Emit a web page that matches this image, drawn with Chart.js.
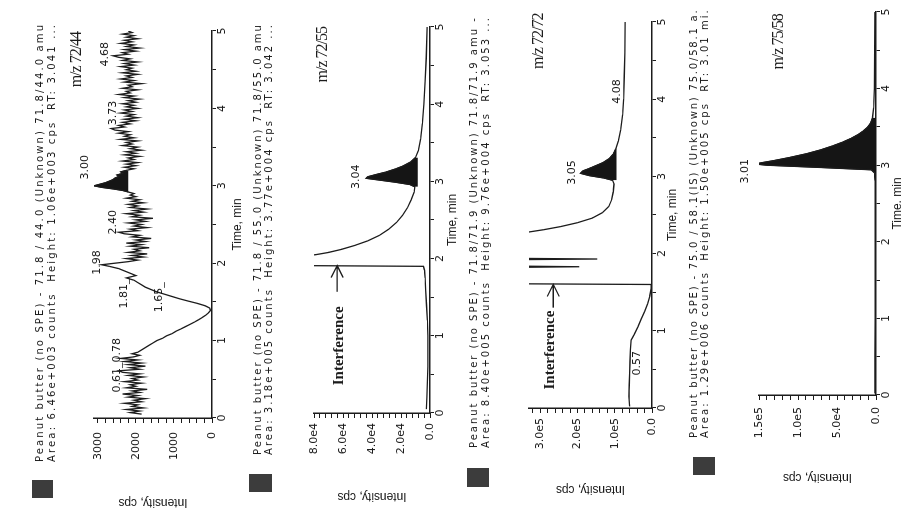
<!DOCTYPE html>
<html>
<head>
<meta charset="utf-8">
<script src="https://cdn.jsdelivr.net/npm/chart.js@4.4.1/dist/chart.umd.min.js"></script>
<style>
html, body { margin: 0; padding: 0; background: #fff; overflow: hidden; }
body { width: 901px; height: 514px; position: relative; }
/* each panel is drawn upright, then turned a quarter turn like the scanned page */
canvas.panel { position: absolute; top: 0; transform-origin: 0 0; transform: translateY(514px) rotate(-90deg); }
</style>
</head>
<body>
<canvas id="c1" class="panel" width="514" height="250" style="left:0px"></canvas>
<canvas id="c2" class="panel" width="514" height="240" style="left:228px"></canvas>
<canvas id="c3" class="panel" width="514" height="235" style="left:452px"></canvas>
<canvas id="c4" class="panel" width="514" height="236" style="left:672px"></canvas>
<script>
// ---- data: [time (min), intensity (cps)] ----
var p1Trace = [
 [0.05,1850],[0.07,2150],[0.09,1900],[0.11,2250],[0.13,1800],[0.15,2100],[0.17,1950],[0.19,2300],[0.21,1850],[0.23,2050],
 [0.25,1750],[0.27,2200],[0.29,1950],[0.31,2350],[0.33,1900],[0.35,2100],[0.37,1700],[0.39,2250],[0.41,2000],[0.43,2150],
 [0.45,1850],[0.47,2300],[0.49,1950],[0.51,2100],[0.53,1800],[0.55,2200],[0.57,1900],[0.59,2350],[0.61,2450],[0.63,1900],
 [0.65,2150],[0.67,1750],[0.69,2200],[0.71,1850],[0.73,2300],[0.75,1950],[0.77,2400],[0.79,2050],[0.81,1900],[0.83,2100],
 [0.85,1950],[0.88,1850],[0.91,1750],[0.94,1650],[0.97,1550],[1.00,1450],[1.03,1300],[1.06,1200],[1.09,1050],[1.12,950],
 [1.15,820],[1.18,700],[1.21,580],[1.24,460],[1.27,350],[1.30,250],[1.33,160],[1.36,90],[1.39,40],[1.42,60],
 [1.45,180],[1.48,380],[1.51,620],[1.54,850],[1.57,1050],[1.60,1250],[1.63,1450],[1.66,1600],[1.69,1750],[1.72,1850],
 [1.75,1950],[1.78,2050],[1.81,2250],[1.84,2000],[1.87,2150],[1.90,2300],[1.93,2450],[1.96,2700],[1.98,2900],[2.00,2550],
 [2.02,2200],[2.04,1950],[2.06,2250],[2.08,1800],[2.10,2100],[2.12,1700],[2.14,2200],[2.16,1900],[2.18,2050],[2.20,1650],
 [2.22,2150],[2.24,1850],[2.26,2250],[2.28,1750],[2.30,2000],[2.32,1600],[2.34,2100],[2.36,1900],[2.38,2300],[2.40,2450],
 [2.42,1950],[2.44,2150],[2.46,1700],[2.48,2050],[2.50,1850],[2.52,2200],[2.54,1750],[2.56,2000],[2.58,1550],[2.60,2100],
 [2.62,1900],[2.64,2250],[2.66,1800],[2.68,2050],[2.70,1700],[2.72,2150],[2.74,1950],[2.76,2200],[2.78,1800],[2.80,2100],
 [2.82,1900],[2.84,2250],[2.86,2000],[2.88,2150],[2.90,2050],[2.92,2200],[2.94,2350],[2.96,2600],[2.98,2900],[3.00,3100],
 [3.02,2950],[3.04,2800],[3.06,2700],[3.08,2600],[3.10,2550],[3.12,2450],[3.14,2500],[3.16,2350],[3.18,2400],[3.20,2250],
 [3.22,2050],[3.24,2300],[3.26,2000],[3.28,2250],[3.30,1950],[3.32,2350],[3.34,2050],[3.36,2200],[3.38,1900],[3.40,2300],
 [3.42,2000],[3.44,2250],[3.46,1850],[3.48,2150],[3.50,1950],[3.52,2350],[3.54,2100],[3.56,2250],[3.58,1950],[3.60,2400],
 [3.62,2050],[3.64,2300],[3.66,2150],[3.68,2450],[3.70,2200],[3.72,2550],[3.74,2650],[3.76,2300],[3.78,2450],[3.80,2150],
 [3.82,2350],[3.84,2000],[3.86,2300],[3.88,1950],[3.90,2250],[3.92,2050],[3.94,2400],[3.96,2100],[3.98,2300],[4.00,1950],
 [4.02,2250],[4.04,2050],[4.06,2350],[4.08,2000],[4.10,2200],[4.12,1900],[4.14,2300],[4.16,2050],[4.18,2450],[4.20,2150],
 [4.22,2250],[4.24,1950],[4.26,2350],[4.28,2100],[4.30,2200],[4.32,1850],[4.34,2300],[4.36,2050],[4.38,2400],[4.40,2100],
 [4.42,2250],[4.44,1950],[4.46,2350],[4.48,2000],[4.50,2250],[4.52,2100],[4.54,2400],[4.56,2050],[4.58,2300],[4.60,1950],
 [4.62,2350],[4.64,2150],[4.66,2450],[4.68,2600],[4.70,2200],[4.72,2350],[4.74,2000],[4.76,2300],[4.78,1900],[4.80,2250],
 [4.82,2050],[4.84,2400],[4.86,2100],[4.88,2300],[4.90,1950],[4.92,2250],[4.94,2050],[4.96,2350],[4.98,2100],[5.00,2200]
];
var p2Trace = [
 [0.05,2500],[0.2,2200],[0.4,1800],[0.6,1500],[0.8,1400],[1.0,1500],[1.2,1800],[1.4,2400],[1.6,3000],[1.75,3400],
 [1.85,3800],[1.90,4500],[1.91,95000],[2.03,95000],[2.05,79000],[2.08,70000],[2.12,61000],[2.17,52000],[2.23,43000],[2.30,35000],
 [2.38,28500],[2.47,23000],[2.56,19000],[2.66,15500],[2.76,13000],[2.86,11000],[2.93,10500],[2.96,14000],[2.99,24000],[3.02,36000],
 [3.04,44000],[3.06,43000],[3.09,37000],[3.12,30500],[3.16,24000],[3.20,18500],[3.25,13500],[3.31,10000],[3.40,8000],[3.55,6500],
 [3.75,5200],[4.0,4200],[4.3,3300],[4.6,2600],[5.0,2000]
];
var p3Trace = [
 [0.02,60000],[0.15,62000],[0.3,61000],[0.45,60000],[0.6,59000],[0.75,58000],[0.88,56000],[0.95,48000],[1.05,38000],[1.15,29000],
 [1.25,20000],[1.35,12000],[1.45,6000],[1.55,2500],[1.60,2000],[1.61,400000],[1.82,400000],[1.83,195000],[1.84,400000],[1.92,400000],
 [1.93,147000],[1.94,400000],[2.26,400000],[2.28,330000],[2.31,290000],[2.35,245000],[2.40,200000],[2.46,160000],[2.53,133000],[2.61,116000],
 [2.70,108000],[2.80,104000],[2.90,102000],[2.95,106000],[2.98,130000],[3.01,168000],[3.04,192000],[3.07,186000],[3.10,170000],[3.14,150000],
 [3.18,131000],[3.23,115000],[3.29,104000],[3.36,97000],[3.46,90000],[3.60,84000],[3.80,79000],[4.00,76000],[4.30,74500],[4.60,73000],
 [5.00,72000]
];
var p4Trace = [
 [0.02,1500],[0.5,1300],[1.0,1200],[1.5,1100],[2.0,1000],[2.5,1200],[2.8,1500],[2.90,2000],[2.94,6000],[2.97,70000],
 [3.00,140000],[3.015,154000],[3.03,148000],[3.06,131000],[3.10,111000],[3.15,89000],[3.20,71000],[3.25,56000],[3.30,43000],[3.35,32000],
 [3.40,23000],[3.45,16000],[3.50,10500],[3.55,7000],[3.62,4500],[3.75,3000],[4.0,2200],[4.5,1600],[5.0,1300]
];

// integrated peak windows [start, end] and the baseline the black fill sits on
var p1Peak = [2.92, 3.20], p1Base = 2200;
var p2Peak = [2.93, 3.31], p2Base = 8500;
var p3Peak = [2.95, 3.36], p3Base = 95000;
var p4Peak = [2.90, 3.62], p4Base = 0;

var p1Header = ['Peanut butter (no SPE) - 71.8 / 44.0 (Unknown) 71.8/44.0 amu',
                'Area: 6.46e+003 counts  Height: 1.06e+003 cps  RT: 3.041 ...'];
var p2Header = ['Peanut butter (no SPE) - 71.8 / 55.0 (Unknown) 71.8/55.0 amu',
                'Area: 3.18e+005 counts  Height: 3.77e+004 cps  RT: 3.042 ...'];
var p3Header = ['Peanut butter (no SPE) - 71.8/71.9 (Unknown) 71.8/71.9 amu -',
                'Area: 8.40e+005 counts  Height: 9.76e+004 cps  RT: 3.053 ...'];
var p4Header = ['Peanut butter (no SPE) - 75.0 / 58.1(IS) (Unknown) 75.0/58.1 a.',
                'Area: 1.29e+006 counts  Height: 1.50e+005 cps  RT: 3.01 mi.'];

var p1Title = 'm/z 72/44', p2Title = 'm/z 72/55', p3Title = 'm/z 72/72', p4Title = 'm/z 75/58';

// peak labels: [text, time, intensity where it sits]
var p1Labels = [['0.61_0.78',0.68,2500],['1.81_',1.61,2320],['1.65_',1.56,1400],['1.98',2.01,3030],
                ['2.40',2.53,2600],['3.00',3.24,3340],['3.73',3.94,2600],['4.68',4.70,2820]];
var p2Labels = [['3.04',3.06,51000]];
var p3Labels = [['3.05',3.05,215000],['4.08',4.10,94000],['0.57',0.58,40000]];
var p4Labels = [['3.01',2.92,168000]];

// axis ticks: [labelled step, minor step, axis top]
var timeTicks = [1, 0.5, 5];
var p1Ticks = [1000, 200, 3100];
var p2Ticks = [20000, 4000, 80000];
var p3Ticks = [100000, 20000, 330000];
var p4Ticks = [50000, 10000, 150000];

var INK = '#1c1c1c';
var TICK_FONT = { family: 'DejaVu Sans', size: 11 };

function sciLabel(v) {
  if (v === 0) return '0.0';
  return v.toExponential(1).replace('+', '');
}

function tickList(step, top) {
  var out = [];
  for (var i = 0; i * step <= top + 1e-9; i++) out.push({ value: Math.round(i * step * 1000) / 1000 });
  return out;
}

function drawDeco(chart, p) {
  var ctx = chart.ctx, xs = chart.scales.x, ys = chart.scales.y;
  ctx.save();
  // legend swatch
  ctx.fillStyle = '#3c3c3c';
  ctx.fillRect(p.box[0], p.box[1], p.box[2], p.box[3]);
  // two header lines, spread to the printed width
  ctx.fillStyle = INK;
  ctx.font = '10px "DejaVu Sans"';
  ctx.textBaseline = 'middle';
  ctx.textAlign = 'left';
  p.header.forEach(function (line, i) {
    ctx.letterSpacing = '0px';
    var w = ctx.measureText(line).width;
    ctx.letterSpacing = ((p.headW - w) / (line.length - 1)).toFixed(2) + 'px';
    ctx.fillText(line, p.headX, p.headY[i]);
  });
  // m/z caption
  ctx.textAlign = 'center';
  ctx.letterSpacing = '-1px';
  ctx.font = '16px "Liberation Serif"';
  ctx.fillText(p.title, xs.getPixelForValue(p.titleAt[0]), ys.getPixelForValue(p.titleAt[1]));
  ctx.letterSpacing = '0px';
  // retention time labels
  ctx.font = '11px "DejaVu Sans"';
  p.labels.forEach(function (l) {
    ctx.fillText(l[0], xs.getPixelForValue(l[1]), ys.getPixelForValue(l[2]));
  });
  // interference note with open arrow
  if (p.interf) {
    var f = p.interf;
    ctx.font = 'bold 15px "Liberation Serif"';
    ctx.fillText('Interference', xs.getPixelForValue(f.text[0]), ys.getPixelForValue(f.text[1]));
    var ay = ys.getPixelForValue(f.arrow[2]);
    var ax0 = xs.getPixelForValue(f.arrow[0]), ax1 = xs.getPixelForValue(f.arrow[1]);
    ctx.strokeStyle = INK;
    ctx.lineWidth = 1.3;
    ctx.beginPath();
    ctx.moveTo(ax0, ay); ctx.lineTo(ax1, ay);
    ctx.moveTo(ax1 - 12, ay - 6); ctx.lineTo(ax1, ay); ctx.lineTo(ax1 - 12, ay + 6);
    ctx.stroke();
  }
  ctx.restore();
}

function makePanel(p) {
  var pts = p.trace.map(function (d) { return { x: d[0], y: d[1] }; });
  var peakPts = pts.filter(function (d) { return d.x >= p.peak[0] && d.x <= p.peak[1]; });
  var yMajor = p.ticks[0], yMinor = p.ticks[1], yMax = p.ticks[2];
  new Chart(document.getElementById(p.id), {
    type: 'line',
    data: {
      datasets: [
        { data: pts, borderColor: INK, borderWidth: 1.3, pointRadius: 0, fill: false, tension: 0 },
        { data: peakPts, borderColor: INK, borderWidth: 1, pointRadius: 0, tension: 0,
          backgroundColor: '#151515', fill: { value: p.base } }
      ]
    },
    options: {
      responsive: false,
      animation: false,
      events: [],
      layout: { padding: p.pad },
      plugins: { legend: { display: false }, tooltip: { enabled: false } },
      scales: {
        x: {
          type: 'linear', min: 0, max: timeTicks[2],
          border: { color: INK, width: 1.5 },
          grid: { drawOnChartArea: false, tickLength: 4, color: INK },
          ticks: { autoSkip: false, maxRotation: 0, padding: 0, color: INK, font: TICK_FONT,
                   callback: function (v) { return v % timeTicks[0] === 0 ? String(v) : ''; } },
          afterBuildTicks: function (s) { s.ticks = tickList(timeTicks[1], timeTicks[2]); },
          title: { display: true, text: 'Time, min', color: INK, padding: 0,
                   font: { family: 'Liberation Sans', size: 12 } },
          afterFit: function (s) { s.height = p.xH; }
        },
        y: {
          type: 'linear', min: 0, max: yMax,
          border: { color: INK, width: 1.5 },
          grid: { drawOnChartArea: false, tickLength: 5, color: INK },
          ticks: { autoSkip: false, padding: p.yPad, color: INK, font: TICK_FONT,
                   callback: function (v) { return v % yMajor === 0 ? p.fmt(v) : ''; } },
          afterBuildTicks: function (s) { s.ticks = tickList(yMinor, yMax); },
          title: { display: true, text: 'Intensity, cps', color: INK, padding: 0,
                   font: { family: 'Liberation Sans', size: 12 } },
          afterFit: function (s) { s.width = p.yW; }
        }
      }
    },
    plugins: [{ id: 'deco', afterDraw: function (chart) { drawDeco(chart, p); } }]
  });
}

makePanel({
  id: 'c1', trace: p1Trace, peak: p1Peak, base: p1Base, header: p1Header, title: p1Title, labels: p1Labels,
  titleAt: [4.63, 3550], ticks: p1Ticks, fmt: String, yPad: 9,
  pad: { left: 4, right: 31, top: 94, bottom: 5 }, yW: 92, xH: 33,
  box: [16, 32, 18, 21], headX: 52, headW: 437, headY: [40, 52]
});
makePanel({
  id: 'c2', trace: p2Trace, peak: p2Peak, base: p2Base, header: p2Header, title: p2Title, labels: p2Labels,
  titleAt: [4.64, 73800], ticks: p2Ticks, fmt: sciLabel, yPad: 5,
  pad: { left: 10, right: 27, top: 86, bottom: 8 }, yW: 91, xH: 30,
  box: [22, 21, 18, 23], headX: 59, headW: 430, headY: [30, 41],
  interf: { text: [0.87, 63000], arrow: [1.57, 1.91, 64000] }
});
makePanel({
  id: 'c3', trace: p3Trace, peak: p3Peak, base: p3Base, header: p3Header, title: p3Title, labels: p3Labels,
  titleAt: [4.75, 303000], ticks: p3Ticks, fmt: sciLabel, yPad: 5,
  pad: { left: 17, right: 22, top: 77, bottom: 7 }, yW: 89, xH: 28,
  box: [27, 15, 19, 22], headX: 66, headW: 430, headY: [22, 34],
  interf: { text: [0.75, 273000], arrow: [1.30, 1.60, 265000] }
});
makePanel({
  id: 'c4', trace: p4Trace, peak: p4Peak, base: p4Base, header: p4Header, title: p4Title, labels: p4Labels,
  titleAt: [4.61, 124000], ticks: p4Ticks, fmt: sciLabel, yPad: 7,
  pad: { left: 29, right: 12, top: 87, bottom: 3 }, yW: 90, xH: 29,
  box: [39, 21, 18, 22], headX: 76, headW: 428, headY: [22, 33]
});
</script>
</body>
</html>
